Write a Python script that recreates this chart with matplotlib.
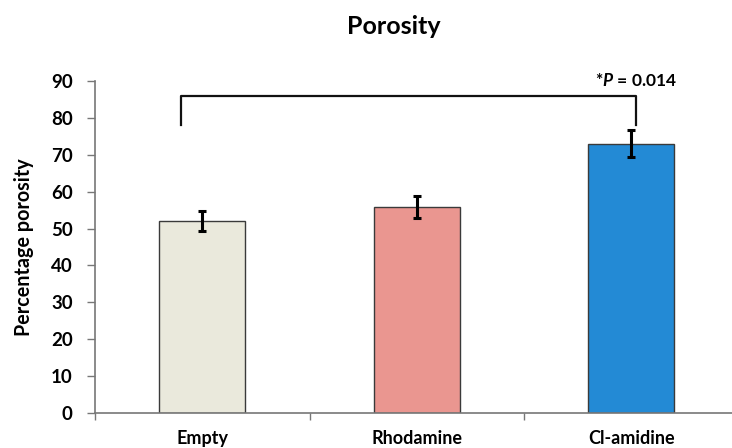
import numpy as np
import matplotlib.pyplot as plt
from matplotlib.ticker import FixedLocator

# data
groups = ['Empty', 'Rhodamine', 'Cl-amidine']
porosity = [52.0, 55.8, 73.0]
sd = [2.7, 2.9, 3.6]
bar_colors = ['#EAE9DC', '#EA9690', '#238AD5']
yticks = [0, 10, 20, 30, 40, 50, 60, 70, 80, 90]
p_label = '*$\\mathbf{P}$ = 0.014'

plt.rcParams['font.family'] = ['Lato', 'DejaVu Sans']
plt.rcParams['mathtext.fontset'] = 'custom'
plt.rcParams['mathtext.bf'] = 'Lato:bold:italic'

fig = plt.figure(figsize=(7.32, 4.48), dpi=100)
ax = fig.add_axes([95 / 732, 35 / 448, 637 / 732, 332 / 448])

x = np.arange(len(groups))
ax.bar(x, porosity, width=0.4, color=bar_colors, edgecolor='#3a3a3a', linewidth=1.0, zorder=2)
ax.errorbar(x, porosity, yerr=sd, fmt='none', ecolor='black', elinewidth=2.2,
            capsize=3, capthick=2.2, zorder=3)

# significance bracket
ax.plot([-0.1, -0.1, 2.02, 2.02], [78, 86, 86, 78], color='#111111', lw=1.6,
        clip_on=False, zorder=4)
ax.text(2.02, 87.8, p_label, ha='center', va='bottom', fontsize=12.5,
        fontweight='bold')

ax.set_xlim(-0.5, -0.5 + 637 / 214.5)
ax.set_ylim(0, 90)
ax.set_yticks(yticks)
ax.set_xticks(x)
ax.set_xticklabels(groups, fontsize=13, fontweight='bold')
ax.xaxis.set_minor_locator(FixedLocator([-0.5, 0.5, 1.5]))
ax.tick_params(axis='x', which='major', length=0, pad=12)
ax.tick_params(axis='x', which='minor', length=5, color='#777777', width=1)
ax.tick_params(axis='y', length=6, color='#777777', width=1, pad=10, labelsize=13.5)
for lab in ax.get_yticklabels():
    lab.set_fontweight('bold')

for side in ['top', 'right']:
    ax.spines[side].set_visible(False)
for side in ['left', 'bottom']:
    ax.spines[side].set_color('#777777')
    ax.spines[side].set_linewidth(1.2)

ax.set_ylabel('Percentage porosity', fontsize=14.2, fontweight='bold', labelpad=12)
fig.text(394 / 732, 1 - 27 / 448, 'Porosity', ha='center', va='center',
         fontsize=18, fontweight='bold')

fig.savefig('out.png', dpi=100)
